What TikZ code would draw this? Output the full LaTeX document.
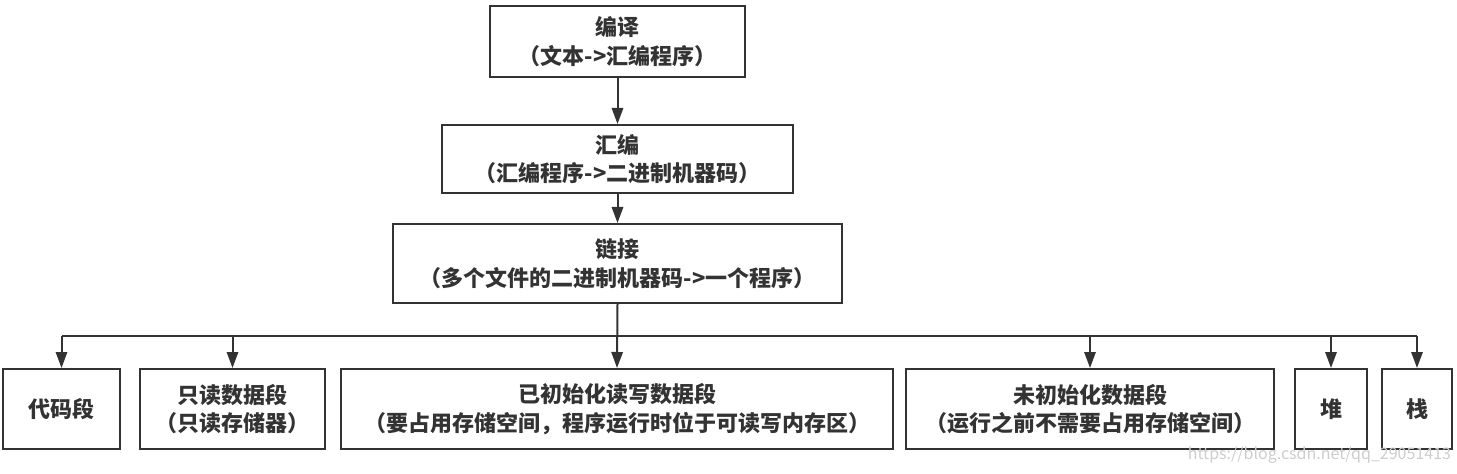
\documentclass[tikz,border=0pt]{standalone}
\usepackage{fontspec}
\setmainfont{Noto Sans CJK SC}
\usetikzlibrary{arrows.meta}
\definecolor{inkgray}{RGB}{51,51,51}
\definecolor{markgray}{RGB}{205,205,205}
\tikzset{every picture/.style={line width=1.5pt}}
\tikzset{
  stagebox/.style={draw=inkgray, text=inkgray, align=center, inner sep=0pt,
    font=\fontsize{16.5}{21.5}\selectfont\bfseries},
  flow/.style={draw=inkgray, -{Triangle[length=12pt,width=8.5pt]}},
  busline/.style={draw=inkgray}
}

\begin{document}
\begin{tikzpicture}[x=0.75pt,y=0.75pt,yscale=-1,xscale=1]
\useasboundingbox (0,0) rectangle (1457,474);

% Build stages
\node [stagebox, minimum width=191.25pt, minimum height=53.25pt] (compile) at (617.5,41.5) {编译\\（文本->汇编程序）};
\node [stagebox, minimum width=263.25pt, minimum height=51pt] (assemble) at (617.5,159) {汇编\\（汇编程序->二进制机器码）};
\node [stagebox, minimum width=336.75pt, minimum height=59.25pt] (link) at (617.5,263.5) {链接\\（多个文件的二进制机器码->一个程序）};

% Segments
\node [stagebox, minimum width=87.75pt, minimum height=60pt] (code) at (61.5,409) {代码段};
\node [stagebox, minimum width=138.75pt, minimum height=60pt] (rodata) at (232.5,409) {只读数据段\\（只读存储器）};
\node [stagebox, minimum width=414pt, minimum height=60pt] (data) at (617,409) {已初始化读写数据段\\（要占用存储空间，程序运行时位于可读写内存区）};
\node [stagebox, minimum width=276pt, minimum height=60pt] (bss) at (1090,409) {未初始化数据段\\（运行之前不需要占用存储空间）};
\node [stagebox, minimum width=54pt, minimum height=60pt] (heap) at (1331,409) {堆};
\node [stagebox, minimum width=52.5pt, minimum height=60pt] (stack) at (1417,409) {栈};

% Watermark
\node [anchor=east, inner sep=0pt, text=markgray, font=\fontsize{12}{14}\selectfont] (mark) at (1452,455) {https://blog.csdn.net/qq\_29051413};

% Connectors
\coordinate (bus) at (617,336);
\draw [flow] (compile) -- (assemble);
\draw [flow] (assemble) -- (link);
\draw [flow] (link.south) -- (data.north);
\draw [busline] (code.north |- bus) -- (stack.north |- bus);
\foreach \seg in {code,rodata,bss,heap,stack}
  \draw [flow] (\seg.north |- bus) -- (\seg.north);

\end{tikzpicture}
\end{document}
